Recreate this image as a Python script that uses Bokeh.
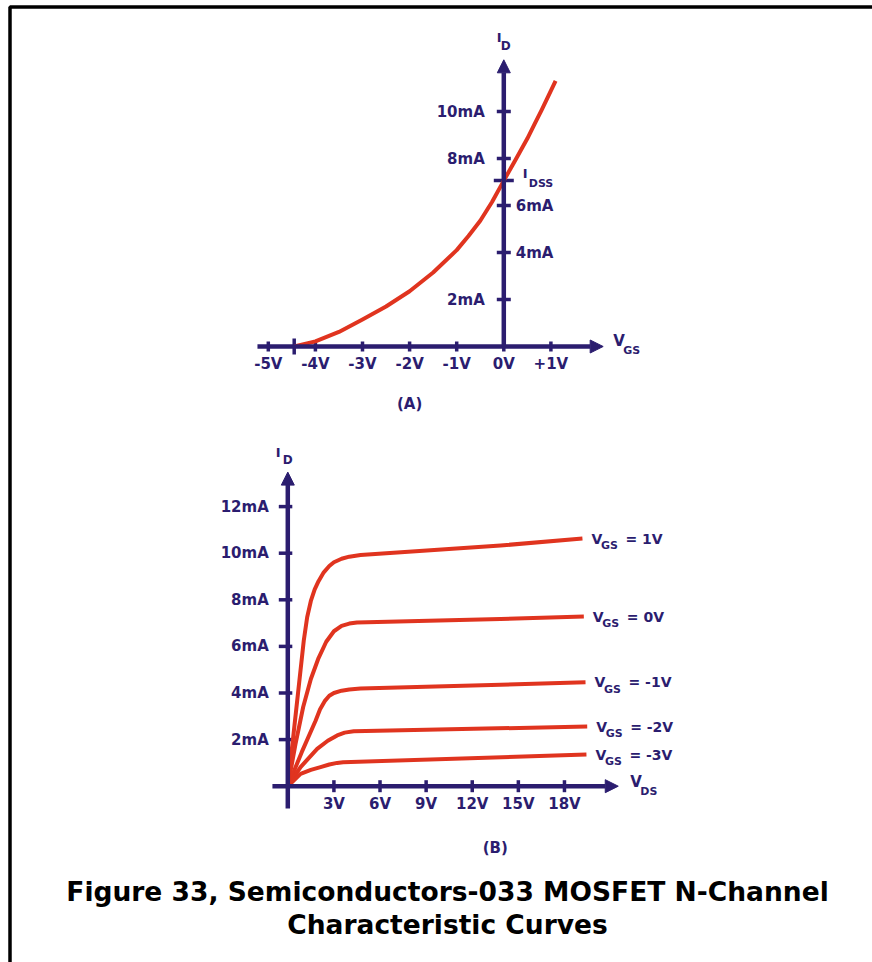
import math
from bokeh.plotting import figure
from bokeh.models import Range1d, Arrow, NormalHead
from bokeh.core.properties import value
from bokeh.embed import file_html
from bokeh.resources import INLINE

# ---------------- data ----------------
# Panel (A): transfer characteristic
A_VGS_TICKS = [-5, -4, -3, -2, -1, 0, 1]
A_VGS_LABELS = ["-5V", "-4V", "-3V", "-2V", "-1V", "0V", "+1V"]
A_ID_TICKS_LEFT = [2, 8, 10]
A_ID_LABELS_LEFT = ["2mA", "8mA", "10mA"]
A_ID_TICKS_RIGHT = [4, 6]
A_ID_LABELS_RIGHT = ["4mA", "6mA"]
A_IDSS = 7.06
A_VP = -4.45
A_CURVE_VGS = [-4.45, -4.0, -3.5, -3.0, -2.5, -2.0, -1.5, -1.0, -0.75, -0.5, -0.25, 0.0,
               0.25, 0.5, 0.65, 0.8, 0.95, 1.1]
A_CURVE_ID = [0.0, 0.22, 0.62, 1.15, 1.7, 2.35, 3.15, 4.1, 4.7, 5.35, 6.15, 7.06,
              7.95, 8.85, 9.45, 10.05, 10.68, 11.3]

# Panel (B): drain characteristics
B_VDS_TICKS = [3, 6, 9, 12, 15, 18]
B_VDS_LABELS = ["3V", "6V", "9V", "12V", "15V", "18V"]
B_ID_TICKS = [2, 4, 6, 8, 10, 12]
B_ID_LABELS = ["2mA", "4mA", "6mA", "8mA", "10mA", "12mA"]

B_P1_VDS = [0.0, 0.5, 1.04, 1.26, 1.5, 1.75, 2.0, 2.34, 2.7, 3.0, 3.5, 4.0, 4.73, 13.84, 19.17]
B_P1_ID = [0.0, 3.0, 6.25, 7.25, 7.95, 8.45, 8.8, 9.18, 9.45, 9.61, 9.76, 9.85, 9.92, 10.33, 10.63]
B_0_VDS = [0.0, 0.5, 1.0, 1.5, 2.0, 2.5, 3.0, 3.5, 4.0, 4.5, 13.84, 19.26]
B_0_ID = [0.0, 1.8, 3.4, 4.6, 5.5, 6.2, 6.65, 6.88, 6.98, 7.03, 7.18, 7.28]
B_M1_VDS = [0.0, 0.9, 1.8, 2.1, 2.4, 2.7, 3.0, 3.5, 4.0, 4.73, 19.37]
B_M1_ID = [0.0, 1.45, 2.8, 3.3, 3.65, 3.88, 4.0, 4.1, 4.15, 4.19, 4.46]
B_M2_VDS = [0.0, 0.83, 1.91, 2.6, 3.21, 3.7, 4.29, 19.48]
B_M2_ID = [0.0, 0.82, 1.6, 1.95, 2.18, 2.3, 2.36, 2.56]
B_M3_VDS = [0.0, 0.83, 1.5, 2.13, 2.7, 3.21, 3.6, 19.43]
B_M3_ID = [0.0, 0.53, 0.7, 0.82, 0.93, 1.0, 1.03, 1.36]
B_CURVE_LABELS = ["= 1V", "= 0V", "= -1V", "= -2V", "= -3V"]

CAPTION_1 = "Figure 33, Semiconductors-033 MOSFET N-Channel"
CAPTION_2 = "Characteristic Curves"

# ---------------- style / layout ----------------
NAVY = "#2b1d6f"
RED = "#e0341f"
FONT = value("DejaVu Sans")
W, H = 872, 962
X0, Y0 = 0, 0

A_ORIGIN = (503.3, 346.0)
A_SCALE = (47.1, 23.5)
B_ORIGIN = (287.3, 785.7)
B_SCALE = (15.37, 23.3)

p = figure(width=W, height=H, output_backend="svg", toolbar_location=None,
           x_range=Range1d(X0, X0 + W), y_range=Range1d(Y0 + H, Y0),
           x_axis_location=None, y_axis_location=None, min_border=0)
p.grid.visible = False
p.outline_line_color = None
p.background_fill_color = "white"
p.border_fill_color = "white"


def add_ranges(name, origin, scale):
    ox, oy = origin
    sx, sy = scale
    p.extra_x_ranges[name] = Range1d((X0 - ox) / sx, (X0 + W - ox) / sx)
    p.extra_y_ranges[name] = Range1d((oy - (Y0 + H)) / sy, (oy - Y0) / sy)


add_ranges("a", A_ORIGIN, A_SCALE)
add_ranges("b", B_ORIGIN, B_SCALE)

# frame (top and left border)
p.line(x=[9.5, 9.5, X0 + W], y=[Y0 + H, 6.5, 6.5],
       line_color="black", line_width=3.5)


def txt(x, y, t, rng, size, align="left", baseline="middle", color=NAVY, xo=0, yo=0):
    kw = {}
    if rng:
        kw = dict(x_range_name=rng, y_range_name=rng)
    p.text(x=x, y=y, text=t, text_font=FONT, text_font_style="bold",
           text_font_size=size, text_color=color, text_align=align,
           text_baseline=baseline, x_offset=xo, y_offset=yo, **kw)


def axes(rng, x_lo, x_hi, y_lo, y_hi):
    kw = dict(x_range_name=rng, y_range_name=rng)
    head = dict(size=13, fill_color=NAVY, line_color=NAVY, line_width=1)
    p.add_layout(Arrow(x_start=x_lo, y_start=0, x_end=x_hi, y_end=0,
                       line_color=NAVY, line_width=4.5,
                       end=NormalHead(**head), **kw))
    p.add_layout(Arrow(x_start=0, y_start=y_lo, x_end=0, y_end=y_hi,
                       line_color=NAVY, line_width=4.5,
                       end=NormalHead(**head), **kw))


# ======== Panel A ========
sxA, syA = A_SCALE
axes("a", -5.23, 2.11, 0, 12.2)
ka = dict(x_range_name="a", y_range_name="a")
nA = len(A_VGS_TICKS)
p.segment(x0=A_VGS_TICKS, y0=[-5 / syA] * nA, x1=A_VGS_TICKS, y1=[5 / syA] * nA,
          line_color=NAVY, line_width=3.5, **ka)
p.segment(x0=[A_VP], y0=[-8 / syA], x1=[A_VP], y1=[8 / syA], line_color=NAVY, line_width=3.5, **ka)
ya = A_ID_TICKS_LEFT + A_ID_TICKS_RIGHT
p.segment(x0=[-7 / sxA] * len(ya), y0=ya, x1=[7 / sxA] * len(ya), y1=ya,
          line_color=NAVY, line_width=3.5, **ka)
p.segment(x0=[-10 / sxA], y0=[A_IDSS], x1=[10 / sxA], y1=[A_IDSS],
          line_color=NAVY, line_width=3.5, **ka)
p.line(x=A_CURVE_VGS, y=A_CURVE_ID, line_color=RED, line_width=4, line_join="round", **ka)
txt(A_VGS_TICKS, [0] * nA, A_VGS_LABELS, "a", "15px", align="center", yo=17)
txt([0] * 3, A_ID_TICKS_LEFT, A_ID_LABELS_LEFT, "a", "15px", align="right", xo=-19)
txt([0] * 2, A_ID_TICKS_RIGHT, A_ID_LABELS_RIGHT, "a", "15px", align="left", xo=12)
txt([0], [A_IDSS], ["I"], "a", "13px", xo=19, yo=-7)
txt([0], [A_IDSS], ["DSS"], "a", "11px", xo=25, yo=3)
txt([0], [12.2], ["I"], "a", "13px", xo=-7, yo=-22)
txt([0], [12.2], ["D"], "a", "12px", xo=-3, yo=-14)
txt([2.11], [0], ["V"], "a", "15px", xo=10, yo=-6)
txt([2.11], [0], ["GS"], "a", "11px", xo=20, yo=4)
txt([-2], [0], ["(A)"], "a", "15px", align="center", yo=57)

# ======== Panel B ========
sxB, syB = B_SCALE
axes("b", -1.0, 21.5, -0.96, 13.48)
kb = dict(x_range_name="b", y_range_name="b")
nb = len(B_VDS_TICKS)
p.segment(x0=B_VDS_TICKS, y0=[-6 / syB] * nb, x1=B_VDS_TICKS, y1=[6 / syB] * nb,
          line_color=NAVY, line_width=3.5, **kb)
ni = len(B_ID_TICKS)
p.segment(x0=[-9 / sxB] * ni, y0=B_ID_TICKS, x1=[4.5 / sxB] * ni, y1=B_ID_TICKS,
          line_color=NAVY, line_width=3.5, **kb)
curves = [(B_P1_VDS, B_P1_ID), (B_0_VDS, B_0_ID), (B_M1_VDS, B_M1_ID),
          (B_M2_VDS, B_M2_ID), (B_M3_VDS, B_M3_ID)]
for (vx, iy), lab in zip(curves, B_CURVE_LABELS):
    p.line(x=vx, y=iy, line_color=RED, line_width=4, line_join="round", **kb)
    txt([vx[-1]], [iy[-1]], ["V"], "b", "14px", xo=9, yo=0)
    txt([vx[-1]], [iy[-1]], ["GS"], "b", "11px", xo=18.5, yo=7)
    txt([vx[-1]], [iy[-1]], [lab], "b", "14px", xo=43, yo=0)
txt(B_VDS_TICKS, [0] * nb, B_VDS_LABELS, "b", "15px", align="center", yo=18)
txt([0] * ni, B_ID_TICKS, B_ID_LABELS, "b", "15px", align="right", xo=-19)
txt([0], [13.48], ["I"], "b", "13px", xo=-12, yo=-20)
txt([0], [13.48], ["D"], "b", "12px", xo=-5, yo=-12)
txt([21.5], [0], ["V"], "b", "15px", xo=12, yo=-4)
txt([21.5], [0], ["DS"], "b", "11px", xo=22, yo=5)
txt([13.5], [0], ["(B)"], "b", "15px", align="center", yo=62)

# caption
txt([447], [891], [CAPTION_1], None, "26.5px", align="center", baseline="alphabetic", color="black")
txt([447], [924], [CAPTION_2], None, "26.5px", align="center", baseline="alphabetic", color="black")

open("out.html", "w").write(file_html(p, INLINE))
